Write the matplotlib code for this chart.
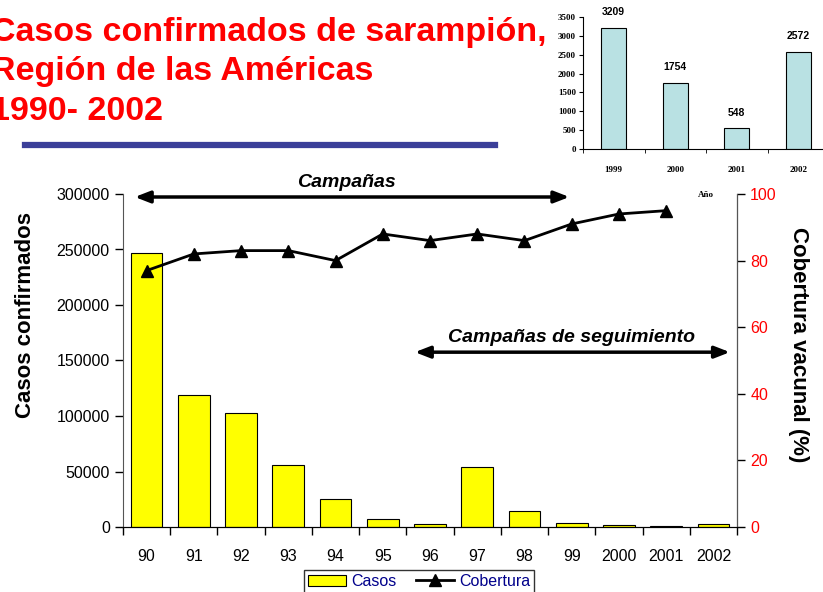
import matplotlib
matplotlib.use("Agg")
import matplotlib.pyplot as plt
from matplotlib.lines import Line2D
from matplotlib.patches import Patch
import numpy as np

plt.rcParams['font.family'] = ['Liberation Sans', 'DejaVu Sans']

# ---- data ----
years = ["90", "91", "92", "93", "94", "95", "96", "97", "98", "99", "2000", "2001", "2002"]
casos = [247000, 119000, 103000, 56200, 25200, 7000, 2700, 54300, 14300, 3209, 1754, 548, 2572]
cobertura = [77, 82, 83, 83, 80, 88, 86, 88, 86, 91, 94, 95]  # 1990-2001

inset_years = ["1999", "2000", "2001", "2002"]
inset_casos = [3209, 1754, 548, 2572]

left_ticks = [0, 50000, 100000, 150000, 200000, 250000, 300000]
right_ticks = [0, 20, 40, 60, 80, 100]

W, H = 823, 592
fig = plt.figure(figsize=(W / 100, H / 100), dpi=100)

def fx(px):
    return px / W

def fy(py):
    return 1 - py / H

# ---- title ----
red = '#FF0000'
for txt, base in [("Casos confirmados de sarampión,", 41),
                  ("Región de las Américas", 80),
                  ("1990- 2002", 120)]:
    fig.text(fx(-9), fy(base), txt, color=red, fontsize=24.5, fontweight='bold',
             ha='left', va='baseline')
fig.add_artist(Line2D([fx(25), fx(495)], [fy(145), fy(145)], color='#3B3F99', lw=4.5))

# ---- main axes ----
ax = fig.add_axes([fx(123), fy(527), fx(737) - fx(123), fy(194) - fy(527)])
x = np.arange(len(years))
ax.bar(x, casos, width=0.67, color='#FFFF00', edgecolor='black', linewidth=0.8, zorder=2)
ax.set_xlim(-0.5, len(years) - 0.5)
ax.set_ylim(0, 300000)
ax.set_yticks(left_ticks)
ax.set_yticklabels([str(v) for v in left_ticks], fontsize=11.5)
ax.set_xticks(x)
ax.set_xticklabels(years, fontsize=11.5)
ax.set_xticks(np.arange(-0.5, len(years), 1), minor=True)
ax.tick_params(axis='x', which='major', length=0, pad=16)
ax.tick_params(axis='x', which='minor', length=6, direction='out', width=1)
ax.tick_params(axis='y', length=6, direction='out', width=1)
ax.spines['top'].set_visible(False)
ax.spines['left'].set_color('#555555')
ax.spines['bottom'].set_color('#222222')
ax.set_ylabel("Casos confirmados", fontsize=16, fontweight='bold', labelpad=14.5)
ax.yaxis.label.set_y(0.637)

ax2 = ax.twinx()
ax2.plot(np.arange(len(cobertura)), cobertura, color='black', lw=2, marker='^',
         markersize=9, zorder=3)
ax2.set_ylim(0, 100)
ax2.set_yticks(right_ticks)
ax2.set_yticklabels([str(v) for v in right_ticks], fontsize=11.5, color=red)
ax2.tick_params(axis='y', length=6, direction='out', width=1, colors='black', labelcolor=red)
ax2.spines['top'].set_visible(False)
ax2.spines['left'].set_visible(False)
ax2.spines['right'].set_color('#555555')
ax2.set_ylabel("Cobertura vacunal (%)", fontsize=16, fontweight='bold', rotation=270,
               labelpad=23)
ax2.yaxis.label.set_y(0.547)

# arrows and annotations
arrow_kw = dict(arrowstyle='<|-|>,head_length=0.9,head_width=0.35', color='black', lw=2.5,
                shrinkA=0, shrinkB=0)
ax2.annotate('', xy=(-0.25, 99.1), xytext=(8.95, 99.1), arrowprops=arrow_kw,
             annotation_clip=False)
ax2.text(4.22, 103.6, "Campañas", fontsize=14, fontweight='bold', fontstyle='italic',
         ha='center', va='center', clip_on=False)
ax2.annotate('', xy=(5.68, 52.5), xytext=(12.35, 52.5), arrowprops=arrow_kw,
             annotation_clip=False)
ax2.text(9.0, 56.8, "Campañas de seguimiento", fontsize=14, fontweight='bold',
         fontstyle='italic', ha='center', va='center')

# legend
handles = [Patch(facecolor='#FFFF00', edgecolor='black', linewidth=0.8, label='Casos'),
           Line2D([], [], color='black', lw=2, marker='^', markersize=9, label='Cobertura')]
leg = fig.legend(handles=handles, loc='upper center', bbox_to_anchor=(fx(419), fy(570)),
                 ncol=2, fontsize=11.5, frameon=True, fancybox=False, borderpad=0.25,
                 borderaxespad=0, handlelength=2.4, columnspacing=1.2, handletextpad=0.3)
leg.get_frame().set_edgecolor('black')
leg.get_frame().set_linewidth(1)
for t in leg.get_texts():
    t.set_color('#00008B')

# ---- inset ----
serif = ['Liberation Serif', 'DejaVu Serif']
axi = fig.add_axes([fx(583), fy(149), fx(829) - fx(583), fy(17) - fy(149)])
xi = np.arange(len(inset_years))
axi.bar(xi, inset_casos, width=0.41, color='#B9E1E3', edgecolor='black', linewidth=0.8)
axi.set_xlim(-0.5, len(inset_years) - 0.5)
axi.set_ylim(0, 3500)
axi.set_yticks(range(0, 3501, 500))
axi.set_yticklabels([str(v) for v in range(0, 3501, 500)], fontsize=6.5,
                    fontweight='bold', family=serif)
axi.set_xticks(xi)
axi.set_xticklabels(inset_years, fontsize=6.5, fontweight='bold', family=serif)
axi.set_xticks(np.arange(-0.5, len(inset_years), 1), minor=True)
axi.tick_params(axis='x', which='major', length=0, pad=12)
axi.tick_params(axis='x', which='minor', length=3, direction='out')
axi.tick_params(axis='y', length=3, direction='out', pad=2)
axi.spines['top'].set_visible(False)
axi.spines['right'].set_visible(False)
axi.patch.set_alpha(0)
for xv, v in zip(xi, inset_casos):
    axi.text(xv, v + 280, str(v), fontsize=7.5, fontweight='bold', ha='center',
             va='bottom', clip_on=False)
fig.text(fx(706), fy(195), "Año", fontsize=6.5, fontweight='bold', family=serif,
         ha='center', va='center')

fig.savefig("out.png", dpi=100)
